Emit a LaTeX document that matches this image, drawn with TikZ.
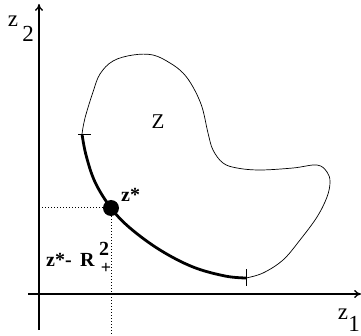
\documentclass[tikz,border=0pt]{standalone}
\usepackage{fontspec}
\setmainfont{Liberation Serif}
\usetikzlibrary{arrows.meta}
\tikzset{
  axe/.style={line width=1.3pt, -{To[length=2.4mm,width=2.8mm]}},
  bord/.style={line width=0.7pt},
  front/.style={line width=2.8pt},
  repere/.style={dotted, line width=1pt},
  tic/.style={line width=0.8pt},
  lab/.style={inner sep=0pt, font=\fontsize{23}{25}\selectfont},
  labb/.style={inner sep=0pt, font=\bfseries\fontsize{20}{22}\selectfont},
}
\begin{document}
\begin{tikzpicture}[x=1pt,y=-1pt]
    \path[use as bounding box] (0,0) rectangle (361,336);
    % Axes
    \coordinate (o1) at (28,294);
    \coordinate (x1) at (361,294);
    \coordinate (o2) at (39,330);
    \coordinate (x2) at (39,4);
    \draw[axe] (o1) -- (x1);
    \draw[axe] (o2) -- (x2);
    \node[lab] (lz2) at (13,21) {z};
    \node[lab] (li2) at (28,34) {2};
    \node[lab] (lz1) at (343,314) {z};
    \node[lab] (li1) at (354,324) {1};
    % Bord de Z
    \coordinate (haut) at (82,134);
    \coordinate (bas) at (246,278);
    \draw[bord] plot[smooth, tension=0.6] coordinates {
      (82,134) (85,118) (93,92) (100,74) (113,61) (133,55) (153,55) (170,63)
      (183,73) (193,87) (202,107) (208,133) (213,150) (223,163) (237,168)
      (260,170) (293,168) (317,165) (327,172) (330,182) (327,197) (317,217)
      (300,240) (283,260) (263,273) (246,278)};
    \draw[front] plot[smooth, tension=0.6] coordinates {
      (82,134) (86,155) (95,182) (111,208) (130,228) (160,250) (193,267)
      (225,276) (246,278)};
    \draw[tic] ([xshift=-4pt]haut) -- ([xshift=9pt]haut);
    \draw[tic] ([yshift=-8pt]bas) -- ([yshift=9pt]bas);
    \node[lab, font=\fontsize{21}{23}\selectfont] (lZ) at (158,122) {Z};
    % Point z*
    \node[circle, fill, inner sep=0pt, minimum size=16pt] (zs) at (111,208) {};
    \coordinate (g) at (39,208);
    \coordinate (b) at (111,336);
    \draw[repere] (g) -- (zs.west);
    \draw[repere] (zs.south) -- (b);
    \node[labb, anchor=west] (lzs) at (121,195) {z*};
    % Cone z* - R^2_+
    \node[labb, anchor=west] (lcone) at (46,260) {z*-};
    \node[labb, anchor=west] (lR) at (80,260) {R};
    \node[labb, anchor=south] (lsup) at (104,256) {2};
    \node[labb, anchor=north, font=\bfseries\fontsize{18}{20}\selectfont] (lsub) at (106,263) {+};
  \end{tikzpicture}
\end{document}
